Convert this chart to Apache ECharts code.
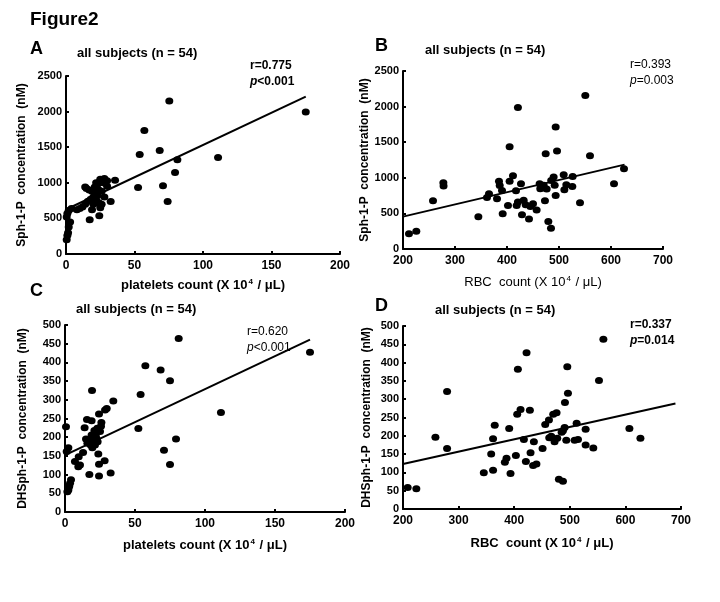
<!DOCTYPE html>
<html><head><meta charset="utf-8">
<script src="https://cdn.jsdelivr.net/npm/echarts@6/dist/echarts.min.js"></script>
<style>html,body{margin:0;padding:0;background:#fff}#c{width:720px;height:602px}</style>
</head><body><div id="c"></div>
<script>
// Panel A: platelets vs Sph-1-P
const aX = [75.4,175,57.2,53.8,68.4,81.3,111,79.6,52.6,70.8,74.2,35.8,32.6,17.3,24.3,
  0.5,1,1.5,2,3,0.5,1,2,4,
  8,10,12,14,16,18,14,15,17,19,21,23,20,22,24,26,25,19,21,23,25,27,28,30,24,26,28,22,30,20];
const aY = [2148,1994,1733,1396,1452,1322,1354,1144,934,957,738,1037,738,481,537,
  200,260,300,380,450,520,570,610,640,
  620,640,660,700,740,770,940,920,900,880,850,820,800,760,720,700,650,620,940,980,1050,1000,1060,1030,900,880,800,1000,950,700];
const fitAX = [0,175], fitAY = [625,2210];

// Panel B: RBC vs Sph-1-P
const bX = [211.5,225.6,257.7,277.6,278,344.9,361.5,365.4,380.8,384.6,390.4,391.7,401.9,405,405,411.5,417.3,418.6,421,426.9,428.8,432,435.9,442.3,444.9,450,457,462.8,464,470.5,473,474.4,476.3,479.5,484.6,489.7,491.7,493.6,493.6,496.2,509,510.3,514.1,525.6,526.3,540.4,550.6,559.6,605.8,625,469.9,421,386,485];
const bY = [214,251,678,931,884,453,725,776,706,950,823,495,612,950,1437,1030,818,612,1986,917,481,683,621,420,598,636,546,917,847,894,678,1339,842,387,293,1011,894,753,1714,1376,1044,833,903,879,1020,650,2156,1311,917,1128,860,659,893,963];
const fitBX = [200,626], fitBY = [455,1185];

// Panel C: platelets vs DHSph-1-P
const cX = [81.2,175,57.4,68.3,75,54,111.4,52.4,79.3,70.7,75,19.3,34.5,29.8,28.6,24.3,15.7,19,26,14,23.1,25,15,17.9,20.2,21.4,22.6,19.5,23.8,24.3,28.3,17.4,24.3,32.6,9.8,12.9,7.1,9.5,10.7,0.7,2.4,1.2,4.3,3.6,3,2.4,1.7,22,21,16,18.3,25.7,19,23.3];
const cY = [464,427,391,380,351,314,266,223,195,165,127,325,297,277,273,262,247,244,239,225,224,215,195,191,187,179,196,172,155,128,137,100,96,104,148,159,135,121,126,228,172,162,86,77,68,59,54,204,218,184,179,229,206,188];
const fitCX = [0,175], fitCY = [152,461];

// Panel D: RBC vs DHSph-1-P
const dX = [208.4,224,258.3,279.3,279.3,345.3,362,358.6,362,365,383.2,386.2,391,393.4,403,406.6,405.4,411.4,417.4,421,422.2,428.2,429.4,434,440,451,455.8,462.5,463,466.6,470.2,476.2,472.6,477.4,480.4,487.7,487.7,491.3,490.7,493.7,495.5,496.7,508.7,512.3,514.7,528.5,528.5,542.3,552.5,560.4,607.2,627,485.3,435.4];
const dY = [59,55,196,321,165,99,106,150,192,229,128,139,220,97,146,382,259,272,190,130,427,270,154,119,123,165,231,243,195,199,259,263,184,193,81,76,214,291,223,188,389,316,188,234,190,218,175,167,351,464,220,193,210,184];
const fitDX = [200,690], fitDY = [123,288];

const yTicksA = [0,500,1000,1500,2000,2500];
const yTicksC = [0,50,100,150,200,250,300,350,400,450,500];

const FONT = '"Liberation Sans", Arial, sans-serif';
const zip = (xs, ys) => xs.map((x, i) => [x, ys[i]]);

const chart = echarts.init(document.getElementById('c'), null, {renderer: 'canvas'});

const xName = (label, bold) => ({
  name: label,
  nameLocation: 'middle',
  nameTextStyle: {
    color: '#000', fontFamily: FONT, fontSize: 13, fontWeight: bold ? 'bold' : 'normal',
    rich: {
      n: {fontFamily: FONT, fontSize: 13, fontWeight: bold ? 'bold' : 'normal', color: '#000'},
      sup: {fontFamily: FONT, fontSize: 8, fontWeight: bold ? 'bold' : 'normal', color: '#000', verticalAlign: 'top', padding: [0, 1, 6, 1]}
    }
  }
});

function xAxis(idx, min, max, interval, label, bold, gap) {
  return Object.assign({
    type: 'value', gridIndex: idx, min, max, interval,
    nameGap: gap,
    axisLine: {lineStyle: {color: '#000', width: 2}},
    axisTick: {inside: true, length: 3, lineStyle: {color: '#000', width: 2}},
    splitLine: {show: false},
    axisLabel: {color: '#000', fontFamily: FONT, fontSize: 12, fontWeight: 'bold', margin: 6, formatter: v => String(v)}
  }, xName(label, bold));
}
function yAxis(idx, min, max, interval, label, gap) {
  return {
    type: 'value', gridIndex: idx, min, max, interval,
    name: label, nameLocation: 'middle', nameRotate: 90, nameGap: gap,
    nameTextStyle: {color: '#000', fontFamily: FONT, fontSize: 12, fontWeight: 'bold'},
    axisLine: {show: true, lineStyle: {color: '#000', width: 2}},
    axisTick: {show: true, inside: true, length: 3, lineStyle: {color: '#000', width: 2}},
    splitLine: {show: false},
    axisLabel: {color: '#000', fontFamily: FONT, fontSize: 11, fontWeight: 'bold', margin: 4, formatter: v => String(v)}
  };
}

const platLabel = '{n|platelets count (X 10}{sup|4}{n| / μL)}';
const rbcLabel = '{n|RBC  count (X 10}{sup|4}{n| / μL)}';

function scatter(idx, xs, ys) {
  return {type: 'scatter', xAxisIndex: idx, yAxisIndex: idx, data: zip(xs, ys),
    symbol: 'circle', symbolSize: [8, 7], itemStyle: {color: '#000', opacity: 1}, silent: true, z: 3};
}
function fit(idx, xs, ys) {
  return {type: 'line', xAxisIndex: idx, yAxisIndex: idx, data: zip(xs, ys),
    showSymbol: false, lineStyle: {color: '#000', width: 2}, silent: true, z: 2};
}

function txt(x, y, text, size, weight, style) {
  return {type: 'text', left: x, top: y, silent: true,
    style: {text, fill: '#000', font: (style || 'normal') + ' ' + weight + ' ' + size + 'px ' + FONT}};
}
function rp(x, y, rText, pRest, bold) {
  const w = bold ? 'bold' : 'normal';
  return {type: 'text', left: x, top: y, silent: true,
    style: {
      text: '{a|' + rText + '}\n{i|p}{a|' + pRest + '}',
      rich: {
        a: {fontFamily: FONT, fontSize: 12, fontWeight: w, fill: '#000', lineHeight: 16},
        i: {fontFamily: FONT, fontSize: 12, fontWeight: w, fontStyle: 'italic', fill: '#000', lineHeight: 16}
      }
    }};
}

const option = {
  animation: false,
  backgroundColor: '#fff',
  grid: [
    {left: 66, top: 76, width: 274, height: 178},
    {left: 403, top: 71, width: 260, height: 178},
    {left: 65, top: 325, width: 280, height: 187},
    {left: 403, top: 326, width: 278, height: 183}
  ],
  xAxis: [
    xAxis(0, 0, 200, 50, platLabel, true, 24),
    xAxis(1, 200, 700, 100, rbcLabel, false, 26),
    xAxis(2, 0, 200, 50, platLabel, true, 26),
    xAxis(3, 200, 700, 100, rbcLabel, true, 27)
  ],
  yAxis: [
    yAxis(0, yTicksA[0], yTicksA[yTicksA.length - 1], 500, 'Sph-1-P  concentration  (nM)', 38),
    yAxis(1, yTicksA[0], yTicksA[yTicksA.length - 1], 500, 'Sph-1-P  concentration  (nM)', 30),
    yAxis(2, yTicksC[0], yTicksC[yTicksC.length - 1], 50, 'DHSph-1-P  concentration  (nM)', 36),
    yAxis(3, yTicksC[0], yTicksC[yTicksC.length - 1], 50, 'DHSph-1-P  concentration  (nM)', 30)
  ],
  series: [
    scatter(0, aX, aY), fit(0, fitAX, fitAY),
    scatter(1, bX, bY), fit(1, fitBX, fitBY),
    scatter(2, cX, cY), fit(2, fitCX, fitCY),
    scatter(3, dX, dY), fit(3, fitDX, fitDY)
  ],
  graphic: [
    txt(30, 10, 'Figure2', 19, 'bold'),
    txt(30, 40, 'A', 18, 'bold'),
    txt(375, 37, 'B', 18, 'bold'),
    txt(30, 282, 'C', 18, 'bold'),
    txt(375, 297, 'D', 18, 'bold'),
    txt(77, 47, 'all subjects (n = 54)', 13, 'bold'),
    txt(425, 44, 'all subjects (n = 54)', 13, 'bold'),
    txt(76, 303, 'all subjects (n = 54)', 13, 'bold'),
    txt(435, 304, 'all subjects (n = 54)', 13, 'bold'),
    rp(250, 60, 'r=0.775', '<0.001', true),
    rp(630, 59, 'r=0.393', '=0.003', false),
    rp(247, 326, 'r=0.620', '<0.001', false),
    rp(630, 319, 'r=0.337', '=0.014', true)
  ]
};
chart.setOption(option);
</script>
</body></html>
